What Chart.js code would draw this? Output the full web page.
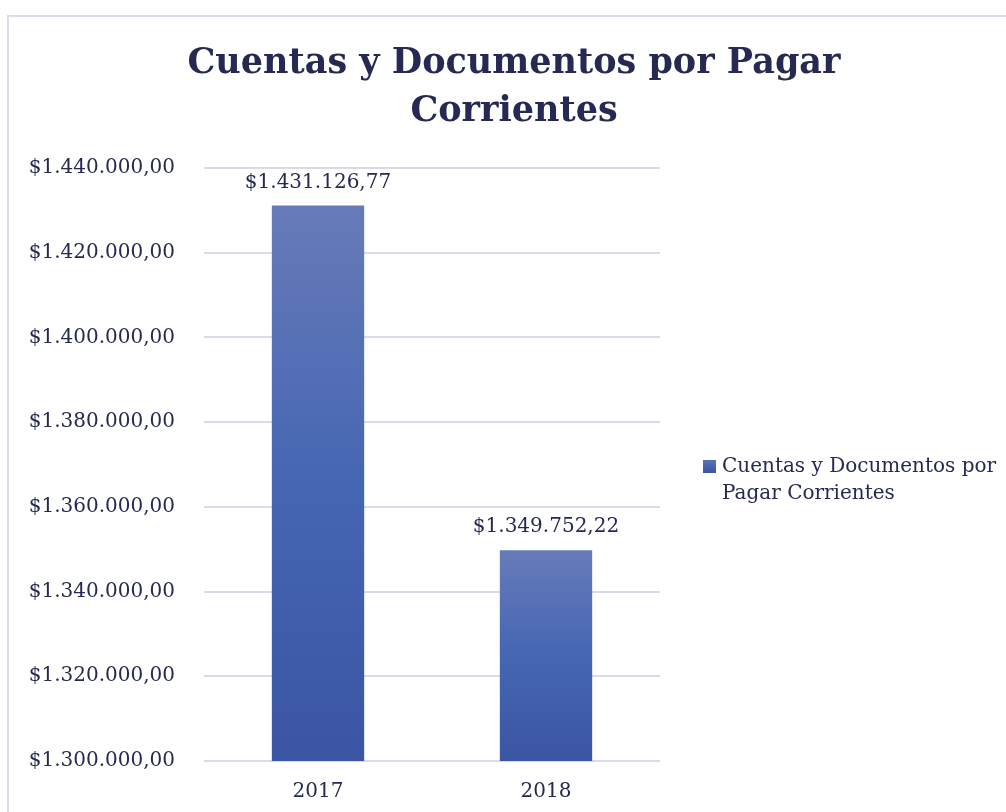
<!DOCTYPE html>
<html>
<head>
<meta charset="utf-8">
<script src="https://cdn.jsdelivr.net/npm/chart.js@4/dist/chart.umd.min.js"></script>
<style>
    html, body { margin: 0; padding: 0; background: #fff; overflow: hidden; }
    #frame {
        position: absolute; left: 7px; top: 15px; width: 1020px; height: 820px;
        border-left: 2px solid #dcdcf0; border-top: 2px solid #dcdcf0;
    }
    #wrap { position: absolute; left: 0; top: 0; width: 1006px; height: 812px; }
</style>
</head>
<body>
<div id="frame"></div>
<div id="wrap"><canvas id="chart"></canvas></div>
<script>
const years = ['2017', '2018'];
const seriesName = 'Cuentas y Documentos por Pagar Corrientes';
const values = [1431126.77, 1349752.22];
const yMin = 1300000;
const yMax = 1440000;
const yStep = 20000;

const textColor = '#262a52';
const fontFamily = "'DejaVu Serif', serif";

function formatMoney(n) {
    const parts = n.toFixed(2).split('.');
    const intPart = parts[0].replace(/\B(?=(\d{3})+(?!\d))/g, '.');
    return '$' + intPart + ',' + parts[1];
}

function barGradient(context) {
    const chart = context.chart;
    const area = chart.chartArea;
    if (!area) return '#4566b3';
    const yScale = chart.scales.y;
    const top = yScale.getPixelForValue(context.raw);
    const bottom = yScale.getPixelForValue(yMin);
    const g = chart.ctx.createLinearGradient(0, top, 0, bottom);
    g.addColorStop(0, '#677bb8');
    g.addColorStop(0.5, '#4566b3');
    g.addColorStop(1, '#3a55a3');
    return g;
}

// value labels above the bars
const valueLabels = {
    id: 'valueLabels',
    afterDatasetsDraw(chart) {
        const ctx = chart.ctx;
        const meta = chart.getDatasetMeta(0);
        ctx.save();
        ctx.font = '20px ' + fontFamily;
        ctx.fillStyle = textColor;
        ctx.textAlign = 'center';
        ctx.textBaseline = 'middle';
        meta.data.forEach((bar, i) => {
            ctx.fillText(formatMoney(values[i]), bar.x, bar.y - 23);
        });
        ctx.restore();
    }
};

// legend at the right, wrapped on two lines
const sideLegend = {
    id: 'sideLegend',
    afterDraw(chart) {
        const ctx = chart.ctx;
        const x = chart.chartArea.right + 43;
        const y = 460;
        ctx.save();
        const g = ctx.createLinearGradient(0, y, 0, y + 13);
        g.addColorStop(0, '#5a72b6');
        g.addColorStop(1, '#3a55a3');
        ctx.fillStyle = g;
        ctx.fillRect(x, y, 13, 13);
        ctx.font = '20px ' + fontFamily;
        ctx.fillStyle = textColor;
        ctx.textAlign = 'left';
        ctx.textBaseline = 'middle';
        ctx.fillText('Cuentas y Documentos por', x + 19, y + 7);
        ctx.fillText('Pagar Corrientes', x + 19, y + 34);
        ctx.restore();
    }
};

const ctx = document.getElementById('chart').getContext('2d');
new Chart(ctx, {
    type: 'bar',
    data: {
        labels: years,
        datasets: [{
            label: seriesName,
            data: values,
            backgroundColor: barGradient,
            borderWidth: 0,
            barPercentage: 0.405,
            categoryPercentage: 1
        }]
    },
    options: {
        responsive: true,
        maintainAspectRatio: false,
        animation: false,
        layout: { padding: { left: 22, right: 0, top: 16, bottom: 0 } },
        plugins: {
            legend: { display: false },
            tooltip: { enabled: false },
            title: {
                display: true,
                text: ['Cuentas y Documentos por Pagar', 'Corrientes'],
                color: textColor,
                font: { family: fontFamily, size: 35, weight: 'bold', lineHeight: 48 / 35 },
                padding: { top: 24, bottom: 32 }
            }
        },
        scales: {
            x: {
                grid: { display: false, drawTicks: false },
                border: { display: false },
                ticks: {
                    color: textColor,
                    font: { family: fontFamily, size: 20 },
                    padding: 19
                },
                afterFit(scale) { scale.height = 51; }
            },
            y: {
                min: yMin,
                max: yMax,
                grid: { color: '#d9daef', lineWidth: 2, drawTicks: false },
                border: { display: false },
                ticks: {
                    stepSize: yStep,
                    color: textColor,
                    font: { family: fontFamily, size: 20 },
                    padding: 29,
                    callback: v => formatMoney(v)
                },
                afterFit(scale) { scale.width = 182; }
            },
            yRight: {
                position: 'right',
                display: true,
                grid: { display: false, drawTicks: false },
                border: { display: false },
                ticks: { display: false },
                afterFit(scale) { scale.width = 346; }
            }
        }
    },
    plugins: [valueLabels, sideLegend]
});
</script>
</body>
</html>
